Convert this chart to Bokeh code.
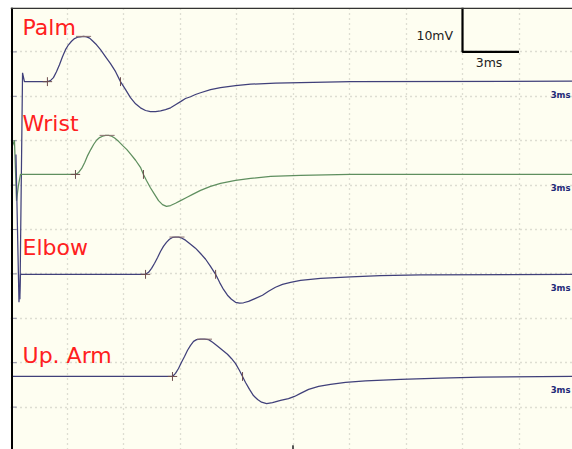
from bokeh.plotting import figure
from bokeh.models import Range1d, Grid, FixedTicker, Span
from bokeh.core.properties import value
from bokeh.embed import file_html
from bokeh.resources import INLINE

# ---- data (time in ms, amplitude in mV relative to each trace's baseline) ----
site_names = ["Palm", "Wrist", "Elbow", "Up. Arm"]
baselines_mV = [83.3, 62.4, 39.9, 16.9]
label_y_mV = [95.5, 73.8, 45.9, 21.6]

palm_t = [0.50, 0.64, 0.74, 1.96, 2.12, 2.28, 2.44, 2.60, 2.76, 2.92, 3.08, 3.24, 3.40, 3.56,
          3.72, 3.88, 4.04, 4.20, 4.35, 4.57, 4.78, 5.05, 5.31, 5.58, 5.84, 6.11, 6.37, 6.64,
          6.90, 7.17, 7.43, 7.70, 7.97, 8.23, 8.50, 8.76, 9.03, 9.29, 9.56, 9.82, 10.09,
          10.62, 11.15, 11.95, 12.75, 14.07, 15.40, 18.06, 29.84]
palm_mV = [-49.0, 2.0, 0.0, 0.0, 0.23, 0.9, 2.25, 3.8, 5.6, 7.2, 8.3, 9.1, 9.7, 10.0,
           10.1, 10.2, 10.1, 9.8, 9.2, 8.3, 7.2, 5.6, 4.05, 2.25, 0.0, -1.8, -3.6, -5.0,
           -5.9, -6.5, -6.75, -6.75, -6.6, -6.3, -5.9, -5.2, -4.5, -3.8, -3.4, -2.9, -2.5,
           -1.8, -1.35, -0.9, -0.56, -0.34, -0.23, 0.0, 0.1]

wrist_t = [0.11, 0.21, 0.32, 0.42, 0.53, 3.45, 3.62, 3.78, 3.94, 4.10, 4.26, 4.42, 4.57, 4.73,
           4.89, 5.05, 5.21, 5.37, 5.53, 5.75, 5.96, 6.18, 6.39, 6.64, 6.90, 7.06, 7.22, 7.43,
           7.65, 7.86, 8.07, 8.28, 8.50, 8.76, 9.03, 9.35, 9.67, 10.09, 10.62, 11.15, 11.95,
           12.75, 13.81, 15.40, 18.06, 29.84]
wrist_mV = [6.5, 7.7, -5.9, -2.5, 0.0, 0.0, 0.45, 1.35, 2.7, 4.3, 5.6, 6.8, 7.7, 8.3,
            8.6, 8.8, 8.8, 8.6, 8.2, 7.4, 6.5, 5.6, 4.5, 3.2, 1.6, 0.0, -1.35, -3.0,
            -4.5, -5.9, -6.8, -7.2, -7.0, -6.5, -5.9, -5.2, -4.5, -3.6, -2.7, -2.0, -1.35,
            -0.9, -0.45, -0.2, 0.0, 0.0]

elbow_t = [0.29, 0.45, 0.53, 7.17, 7.33, 7.49, 7.65, 7.81, 7.97, 8.12, 8.28, 8.44, 8.60, 8.76,
           8.92, 9.08, 9.29, 9.56, 9.82, 10.09, 10.36, 10.62, 10.89, 11.10, 11.31, 11.52, 11.73,
           11.95, 12.16, 12.37, 12.64, 13.01, 13.38, 13.70, 14.07, 14.44, 14.87, 15.40, 16.46,
           18.06, 19.65, 21.77, 29.84]
elbow_mV = [27.0, -6.3, 0.0, 0.0, 0.45, 1.35, 2.5, 3.8, 5.2, 6.3, 7.2, 7.9, 8.3, 8.4,
            8.4, 8.2, 7.7, 6.8, 5.9, 4.7, 3.4, 1.8, 0.0, -1.8, -3.4, -4.7, -5.6,
            -6.3, -6.5, -6.4, -6.1, -5.4, -4.7, -3.8, -2.9, -2.25, -1.8, -1.35, -0.9,
            -0.56, -0.3, -0.1, 0.0]

uparm_t = [0.05, 8.60, 8.76, 8.92, 9.08, 9.24, 9.40, 9.56, 9.72, 9.88, 10.09, 10.30, 10.52,
           10.73, 11.00, 11.26, 11.52, 11.73, 11.95, 12.16, 12.32, 12.48, 12.69, 12.90, 13.12,
           13.33, 13.60, 13.91, 14.34, 14.76, 15.08, 15.40, 15.83, 16.36, 16.99, 17.79, 18.85,
           20.71, 22.84, 24.96, 29.84]
uparm_mV = [0.0, 0.0, 0.7, 1.8, 3.2, 4.5, 5.9, 7.0, 7.9, 8.3, 8.4, 8.4, 8.3,
            7.7, 6.8, 5.9, 5.0, 4.05, 2.9, 1.35, 0.0, -1.35, -2.9, -4.3, -5.2,
            -5.8, -6.1, -5.9, -5.4, -5.0, -4.5, -3.8, -2.9, -2.25, -1.8, -1.35, -1.0,
            -0.68, -0.35, -0.15, 0.0]

onset_ms = [1.96, 3.45, 7.17, 8.60]
peak_ms = [3.88, 5.13, 8.84, 10.30]
peak_mV = [10.2, 8.8, 8.4, 8.4]
cross_ms = [5.84, 7.06, 10.89, 12.32]
sweep_labels = ["3ms", "3ms", "3ms", "3ms"]

scale_mV = 10
scale_ms = 3
scale_origin = (24.0, 90.0)

grid_x_ms = [3, 6, 9, 12, 15, 18, 21, 24, 27]
grid_y_mV = [10, 20, 30, 40, 50, 60, 70, 80, 90]

traces_t = [palm_t, wrist_t, elbow_t, uparm_t]
traces_mV = [palm_mV, wrist_mV, elbow_mV, uparm_mV]
trace_colors = ["#40407a", "#5f8f5f", "#40407a", "#40407a"]

# ---- figure ----
p = figure(width=572, height=449, x_range=Range1d(0, 29.84), y_range=Range1d(0.45, 100),
           x_axis_type=None, y_axis_type=None, toolbar_location=None,
           output_backend="svg", min_border_left=10, min_border_right=0,
           min_border_top=7, min_border_bottom=0)
p.background_fill_color = "#fefef1"
p.border_fill_color = "white"
p.outline_line_color = None

for dim, ticks in ((0, grid_x_ms), (1, grid_y_mV)):
    p.add_layout(Grid(dimension=dim, ticker=FixedTicker(ticks=ticks),
                      grid_line_color="#bdbdb3", grid_line_dash="1 4", grid_line_width=1.3))

# panel borders
p.add_layout(Span(location=0.08, dimension="height", line_color="black", line_width=2))
p.add_layout(Span(location=99.85, dimension="width", line_color="#333333", line_width=1.5))

# small ticks on the left border at grid rows
p.segment(x0=[0.08] * len(grid_y_mV), x1=[0.33] * len(grid_y_mV), y0=grid_y_mV, y1=grid_y_mV,
          line_color="#8a8aa0", line_width=1)
# mid-sweep tick at bottom
p.segment(x0=[15], x1=[15], y0=[0.45], y1=[1.4], line_color="#555555", line_width=2)

# traces
for t, a, base, col in zip(traces_t, traces_mV, baselines_mV, trace_colors):
    p.line(t, [base + v for v in a], line_color=col, line_width=1.25)

# cursors / markers
mk = "#6e4e4e"
p.segment(x0=onset_ms, x1=onset_ms, y0=[b - 1.0 for b in baselines_mV],
          y1=[b + 1.0 for b in baselines_mV], line_color=mk, line_width=1)
p.segment(x0=[o - 0.25 for o in onset_ms], x1=[o + 0.25 for o in onset_ms],
          y0=baselines_mV, y1=baselines_mV, line_color=mk, line_width=1)
p.segment(x0=cross_ms, x1=cross_ms, y0=[b - 1.0 for b in baselines_mV],
          y1=[b + 1.0 for b in baselines_mV], line_color=mk, line_width=1)
p.segment(x0=[pk - 0.4 for pk in peak_ms], x1=[pk + 0.4 for pk in peak_ms],
          y0=[b + v for b, v in zip(baselines_mV, peak_mV)],
          y1=[b + v for b, v in zip(baselines_mV, peak_mV)], line_color="#8a7070", line_width=1)

# site labels
p.text(x=[0.64] * 4, y=label_y_mV, text=site_names, text_color="#ff2020",
       text_font=value("DejaVu Sans"), text_font_size="22px", text_baseline="alphabetic",
       text_align="left")

# sweep labels at right
p.text(x=[28.68] * 4, y=[b - 3.1 for b in baselines_mV], text=sweep_labels, text_color="#1f2a78",
       text_font=value("DejaVu Sans"), text_font_size="8.5px", text_font_style="bold",
       text_baseline="middle", text_align="left")

# calibration bar
x0, y0 = scale_origin
p.line([x0, x0, x0 + scale_ms], [y0 + scale_mV, y0, y0], line_color="black", line_width=2.2)
p.text(x=[x0 - 0.5], y=[y0 + scale_mV * 0.37], text=[f"{scale_mV}mV"], text_color="#222222",
       text_font=value("DejaVu Sans"), text_font_size="12.5px", text_baseline="middle",
       text_align="right")
p.text(x=[x0 + scale_ms * 0.47], y=[y0 - 2.5], text=[f"{scale_ms}ms"], text_color="#222222",
       text_font=value("DejaVu Sans"), text_font_size="12.5px", text_baseline="middle",
       text_align="center")

open("out.html", "w").write(file_html(p, INLINE))
